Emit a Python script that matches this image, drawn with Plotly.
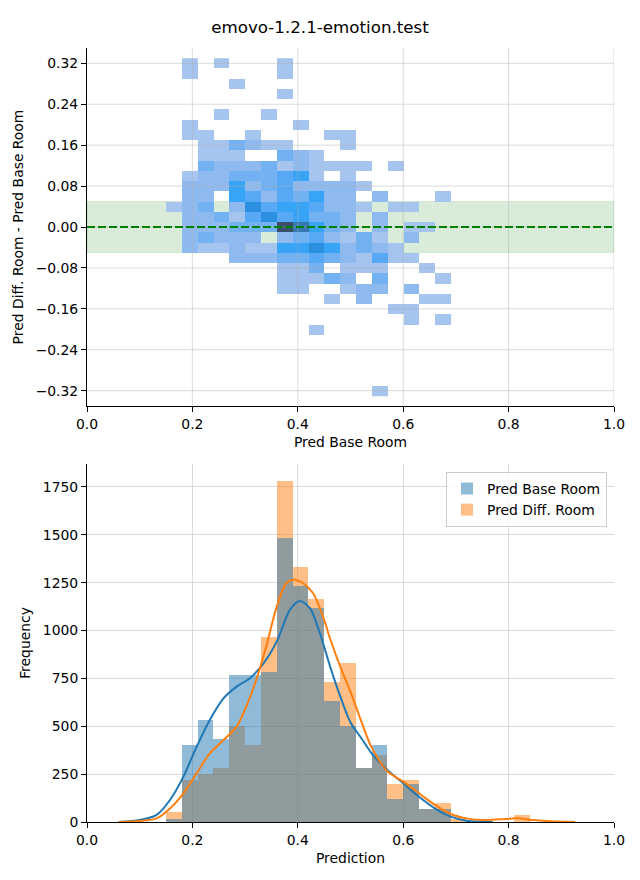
import plotly.graph_objects as go

TITLE = "emovo-1.2.1-emotion.test"

# ---------------- top panel: 2-D histogram ----------------
# bin centres of the 2-D histogram (x: Pred Base Room, y: difference)
h2_x = [0.165, 0.195, 0.225, 0.255, 0.285, 0.315, 0.345, 0.375, 0.405,
        0.435, 0.465, 0.495, 0.525, 0.555, 0.585, 0.615, 0.645, 0.675]
h2_y = [0.32, 0.30, 0.28, 0.26, 0.24, 0.22, 0.20, 0.18, 0.16, 0.14, 0.12,
        0.10, 0.08, 0.06, 0.04, 0.02, 0.00, -0.02, -0.04, -0.06, -0.08,
        -0.10, -0.12, -0.14, -0.16, -0.18, -0.20, -0.22, -0.24, -0.26,
        -0.28, -0.30, -0.32]
# counts per cell, one row per y centre (top to bottom), columns follow h2_x
h2_counts = [
    [0, 1, 0, 1, 0, 0, 0, 1, 0, 0, 0, 0, 0, 0, 0, 0, 0, 0],
    [0, 1, 0, 0, 0, 0, 0, 1, 0, 0, 0, 0, 0, 0, 0, 0, 0, 0],
    [0, 0, 0, 0, 1, 0, 0, 0, 0, 0, 0, 0, 0, 0, 0, 0, 0, 0],
    [0, 0, 0, 0, 0, 0, 0, 1, 0, 0, 0, 0, 0, 0, 0, 0, 0, 0],
    [0, 0, 0, 0, 0, 0, 0, 0, 0, 0, 0, 0, 0, 0, 0, 0, 0, 0],
    [0, 0, 0, 1, 0, 0, 1, 0, 0, 0, 0, 0, 0, 0, 0, 0, 0, 0],
    [0, 1, 0, 0, 0, 0, 0, 0, 1, 0, 0, 0, 0, 0, 0, 0, 0, 0],
    [0, 1, 1, 0, 0, 1, 0, 0, 0, 0, 1, 1, 0, 0, 0, 0, 0, 0],
    [0, 0, 1, 1, 3, 2, 1, 1, 0, 0, 0, 1, 0, 0, 0, 0, 0, 0],
    [0, 0, 1, 1, 1, 0, 0, 3, 2, 1, 0, 0, 0, 0, 0, 0, 0, 0],
    [0, 0, 3, 2, 2, 2, 3, 1, 2, 1, 1, 1, 1, 0, 1, 0, 0, 0],
    [0, 1, 2, 2, 3, 3, 3, 4, 5, 1, 0, 1, 0, 0, 0, 0, 0, 0],
    [0, 2, 2, 2, 5, 2, 3, 4, 2, 2, 2, 2, 1, 0, 0, 0, 0, 0],
    [0, 2, 2, 0, 5, 4, 2, 4, 3, 5, 2, 2, 0, 2, 0, 0, 0, 1],
    [1, 2, 3, 0, 2, 7, 4, 5, 5, 4, 2, 2, 1, 0, 1, 1, 0, 0],
    [0, 2, 2, 3, 1, 4, 7, 4, 5, 3, 3, 2, 0, 2, 0, 0, 0, 0],
    [0, 2, 2, 2, 3, 3, 3, 11, 9, 5, 3, 2, 0, 2, 0, 1, 1, 0],
    [0, 2, 3, 2, 2, 2, 0, 2, 3, 4, 2, 1, 3, 1, 0, 2, 0, 0],
    [0, 2, 1, 1, 2, 1, 1, 5, 5, 7, 5, 2, 3, 2, 1, 0, 0, 0],
    [0, 0, 0, 0, 2, 2, 2, 3, 3, 4, 3, 2, 1, 4, 1, 1, 0, 0],
    [0, 0, 0, 0, 0, 0, 0, 1, 1, 3, 0, 1, 1, 1, 0, 0, 1, 0],
    [0, 0, 0, 0, 0, 0, 0, 1, 1, 1, 3, 2, 0, 3, 0, 0, 0, 1],
    [0, 0, 0, 0, 0, 0, 0, 1, 1, 0, 0, 1, 2, 2, 0, 2, 0, 0],
    [0, 0, 0, 0, 0, 0, 0, 0, 0, 0, 1, 0, 2, 0, 0, 0, 1, 1],
    [0, 0, 0, 0, 0, 0, 0, 0, 0, 0, 0, 0, 0, 0, 1, 1, 0, 0],
    [0, 0, 0, 0, 0, 0, 0, 0, 0, 0, 0, 0, 0, 0, 0, 1, 0, 1],
    [0, 0, 0, 0, 0, 0, 0, 0, 0, 1, 0, 0, 0, 0, 0, 0, 0, 0],
    [0, 0, 0, 0, 0, 0, 0, 0, 0, 0, 0, 0, 0, 0, 0, 0, 0, 0],
    [0, 0, 0, 0, 0, 0, 0, 0, 0, 0, 0, 0, 0, 0, 0, 0, 0, 0],
    [0, 0, 0, 0, 0, 0, 0, 0, 0, 0, 0, 0, 0, 0, 0, 0, 0, 0],
    [0, 0, 0, 0, 0, 0, 0, 0, 0, 0, 0, 0, 0, 0, 0, 0, 0, 0],
    [0, 0, 0, 0, 0, 0, 0, 0, 0, 0, 0, 0, 0, 0, 0, 0, 0, 0],
    [0, 0, 0, 0, 0, 0, 0, 0, 0, 0, 0, 0, 0, 1, 0, 0, 0, 0],
]
TOLERANCE = 0.05          # half-height of the green band
top_xticks = [0.0, 0.2, 0.4, 0.6, 0.8, 1.0]
top_yticks = [-0.32, -0.24, -0.16, -0.08, 0.0, 0.08, 0.16, 0.24, 0.32]

# ---------------- bottom panel: 1-D histograms + KDE ----------------
bin_left = [0.15, 0.18, 0.21, 0.24, 0.27, 0.30, 0.33, 0.36, 0.39, 0.42, 0.45,
            0.48, 0.51, 0.54, 0.57, 0.60, 0.63, 0.66, 0.69, 0.72, 0.75, 0.78, 0.81]
BIN_W = 0.03
base_counts = [15, 400, 533, 433, 768, 768, 784, 1485, 1233, 1120, 634,
               503, 280, 402, 120, 198, 68, 68, 0, 0, 0, 0, 0]
diff_counts = [50, 220, 250, 280, 500, 400, 968, 1782, 1332, 1165, 733,
               832, 282, 350, 198, 219, 68, 98, 14, 0, 0, 0, 35]

kde_base_x = [0.06, 0.10, 0.132, 0.1575, 0.183, 0.208, 0.233, 0.259, 0.284,
              0.309, 0.335, 0.36, 0.385, 0.404, 0.423, 0.442, 0.461, 0.48,
              0.50, 0.52, 0.54, 0.57, 0.60, 0.63, 0.66, 0.69, 0.72, 0.77]
kde_base_y = [0, 10, 37, 115, 237, 393, 533, 646, 707, 751, 829, 942, 1108,
              1154, 1117, 986, 815, 660, 520, 440, 359, 272, 202, 132, 71,
              28, 7, 0]
kde_diff_x = [0.06, 0.10, 0.132, 0.1575, 0.183, 0.208, 0.233, 0.259, 0.284,
              0.302, 0.321, 0.34, 0.36, 0.378, 0.391, 0.41, 0.429, 0.448,
              0.461, 0.48, 0.50, 0.52, 0.54, 0.57, 0.60, 0.63, 0.66, 0.69,
              0.72, 0.752, 0.784, 0.816, 0.848, 0.88, 0.926]
kde_diff_y = [0, 5, 19, 71, 150, 254, 359, 428, 498, 602, 742, 916, 1125,
              1247, 1266, 1247, 1195, 1073, 960, 815, 680, 530, 390, 265, 211,
              150, 89, 42, 19, 10, 14, 19, 10, 4, 0]
bot_yticks = [0, 250, 500, 750, 1000, 1250, 1500, 1750]

# ---------------- figure ----------------
# the page body has an 8px margin, so the figure is 632x872 and all
# window pixel positions are shifted by 8px
OFF = 8
W, H = 640 - OFF, 880 - OFF
def px_x(p):
    return (p - OFF) / W
def px_y(p):
    return 1 - (p - OFF) / H

AX_L, AX_R = px_x(87), px_x(614)
TOP_DOM = [px_y(406), px_y(48)]
BOT_DOM = [px_y(822), px_y(464)]
FONT = "DejaVu Sans"
FS = 13.9
GRID = "rgba(176,176,176,0.45)"
BLUE = "#1f77b4"
ORANGE = "#ff7f0e"

z_top = [[c if c > 0 else None for c in row] for row in h2_counts]

fig = go.Figure()
fig.add_trace(go.Heatmap(
    x=h2_x, y=h2_y, z=z_top, zmin=1, zmax=11, showscale=False,
    colorscale=[[0.0, "#a5c4ee"], [0.1, "#8fbaef"], [0.2, "#72b2f3"],
                [0.3, "#58a9f5"], [0.4, "#38a4f5"], [0.5, "#30a0f2"],
                [0.6, "#2b90e0"], [0.7, "#3184c8"], [0.8, "#3878b0"],
                [0.9, "#3a6390"], [1.0, "#3b4e6c"]],
    xaxis="x", yaxis="y", hoverinfo="skip", showlegend=False))

# bottom: orange first, blue drawn on top (as in the source)
fig.add_trace(go.Bar(x=bin_left, y=diff_counts, width=BIN_W, offset=0,
                     marker=dict(color="rgba(255,127,14,0.5)", line=dict(width=0)),
                     name="Pred Diff. Room", legendrank=2,
                     xaxis="x2", yaxis="y2"))
fig.add_trace(go.Bar(x=bin_left, y=base_counts, width=BIN_W, offset=0,
                     marker=dict(color="rgba(31,119,180,0.5)", line=dict(width=0)),
                     name="Pred Base Room", legendrank=1,
                     xaxis="x2", yaxis="y2"))
fig.add_trace(go.Scatter(x=kde_base_x, y=kde_base_y, mode="lines",
                         line=dict(color=BLUE, width=2, shape="spline", smoothing=0.8),
                         showlegend=False, xaxis="x2", yaxis="y2", hoverinfo="skip"))
fig.add_trace(go.Scatter(x=kde_diff_x, y=kde_diff_y, mode="lines",
                         line=dict(color=ORANGE, width=2, shape="spline", smoothing=0.8),
                         showlegend=False, xaxis="x2", yaxis="y2", hoverinfo="skip"))

shapes = []
# green tolerance band (below the cells)
shapes.append(dict(type="rect", xref="x domain", yref="y", x0=0, x1=1,
                   y0=-TOLERANCE, y1=TOLERANCE, layer="below",
                   fillcolor="rgba(0,128,0,0.15)",
                   line=dict(color="rgba(0,128,0,0.12)", width=1)))
# grid of top panel drawn above the cells
for xv in top_xticks[1:]:
    shapes.append(dict(type="line", xref="x", yref="y domain", x0=xv, x1=xv,
                       y0=0, y1=1, layer="above", line=dict(color=GRID, width=1)))
for yv in top_yticks:
    shapes.append(dict(type="line", xref="x domain", yref="y", x0=0, x1=1,
                       y0=yv, y1=yv, layer="above", line=dict(color=GRID, width=1)))
# zero line
shapes.append(dict(type="line", xref="x domain", yref="y", x0=0, x1=1, y0=0, y1=0,
                   layer="above", line=dict(color="green", width=2, dash="8px,3px")))

axis_common = dict(showline=True, linecolor="black", linewidth=1, ticks="outside",
                   ticklen=5, tickwidth=1, tickcolor="black", zeroline=False,
                   tickfont=dict(family=FONT, size=FS, color="black"),
                   mirror=False, automargin=False)

fig.update_layout(
    width=W, height=H, margin=dict(l=0, r=0, t=0, b=0, autoexpand=False),
    paper_bgcolor="white", plot_bgcolor="white",
    font=dict(family=FONT, size=FS, color="black"),
    title=dict(text=TITLE, x=px_x(320), xanchor="center", y=px_y(27), yanchor="middle",
               font=dict(family=FONT, size=16.7, color="black")),
    barmode="overlay", bargap=0,
    shapes=shapes,
    xaxis=dict(domain=[AX_L, AX_R], anchor="y", range=[0, 1], tickvals=top_xticks,
               tickformat=".1f", showgrid=False,
               title=dict(text="Pred Base Room", standoff=6,
                          font=dict(family=FONT, size=FS)), **axis_common),
    yaxis=dict(domain=TOP_DOM, anchor="x", range=[-0.35, 0.35], tickvals=top_yticks,
               tickformat=".2f", showgrid=False,
               title=dict(text="Pred Diff. Room - Pred Base Room", standoff=8,
                          font=dict(family=FONT, size=FS)), **axis_common),
    xaxis2=dict(domain=[AX_L, AX_R], anchor="y2", range=[0, 1], tickvals=top_xticks,
                tickformat=".1f", showgrid=True, gridcolor=GRID, gridwidth=1,
                title=dict(text="Prediction", standoff=6,
                           font=dict(family=FONT, size=FS)), **axis_common),
    yaxis2=dict(domain=BOT_DOM, anchor="x2", range=[0, 1870], tickvals=bot_yticks,
                showgrid=True, gridcolor=GRID, gridwidth=1,
                title=dict(text="Frequency", standoff=8,
                           font=dict(family=FONT, size=FS)), **axis_common),
    legend=dict(x=px_x(607), y=px_y(472), xanchor="right", yanchor="top",
                bgcolor="rgba(255,255,255,0.8)", bordercolor="#cccccc", borderwidth=1,
                font=dict(family=FONT, size=FS, color="black"),
                traceorder="normal", itemwidth=30),
)

fig.write_html("out.html")
